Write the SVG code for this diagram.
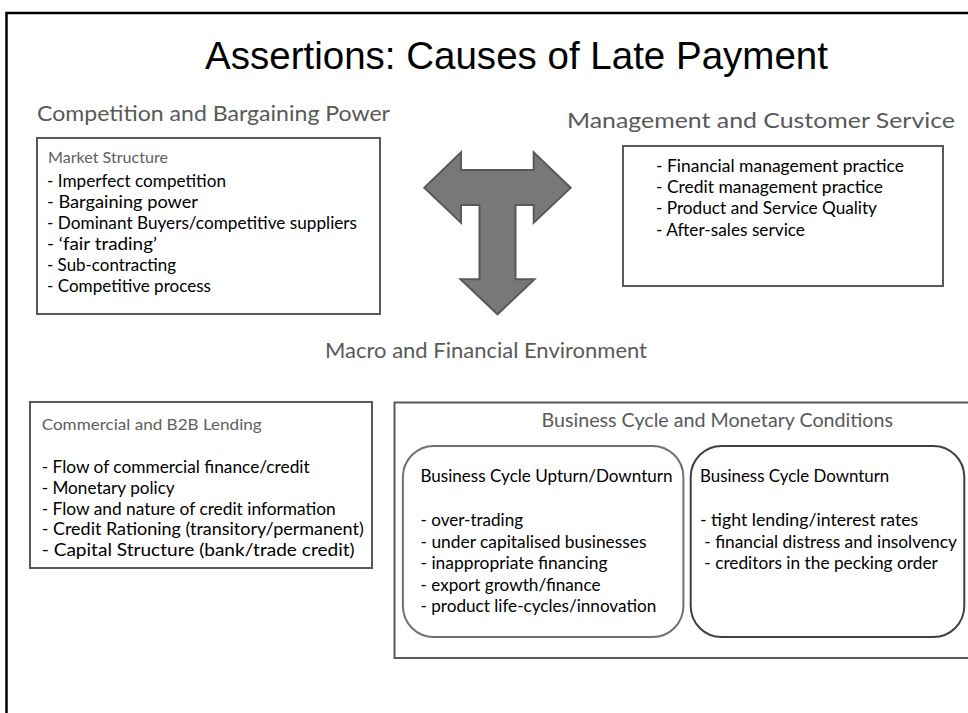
<svg xmlns="http://www.w3.org/2000/svg" width="968" height="713" viewBox="0 0 968 713">
<style>
.frame{fill:none;stroke:#000;stroke-width:2.5}
.box{fill:#fff;stroke:#595959;stroke-width:2}
.rbL{fill:#fff;stroke:#707070;stroke-width:2}
.rbR{fill:#fff;stroke:#404040;stroke-width:2}
.title{font-family:"Liberation Sans",Arial,sans-serif;font-size:39px;fill:#000}
.h{font-family:Lato,"Open Sans",sans-serif;font-size:22px;fill:#595959}
.sh{font-family:Lato,"Open Sans",sans-serif;font-size:15px;fill:#606060}
.sh2{font-family:Lato,"Open Sans",sans-serif;font-size:18.5px;fill:#595959}
.t{font-family:Lato,"Open Sans",sans-serif;font-size:16.5px;fill:#000}
.t2{font-family:Lato,"Open Sans",sans-serif;font-size:17.5px;fill:#000}
.arrow{fill:#787878;stroke:#595959;stroke-width:2;stroke-linejoin:miter}
</style>
<rect class="frame" x="6.5" y="13" width="1000" height="760"/>
<text class="title" x="205" y="69" textLength="623" lengthAdjust="spacingAndGlyphs">Assertions:  Causes of Late Payment</text>

<g id="competition">
<text class="h" x="37" y="121" textLength="353" lengthAdjust="spacingAndGlyphs">Competition and Bargaining Power</text>
<rect class="box" x="37" y="138" width="343" height="176"/>
<text class="sh" x="48" y="163" textLength="120" lengthAdjust="spacingAndGlyphs">Market Structure</text>
<text class="t" x="47" y="187" textLength="179" lengthAdjust="spacingAndGlyphs">- Imperfect competition</text>
<text class="t" x="47" y="208" textLength="151" lengthAdjust="spacingAndGlyphs">- Bargaining power</text>
<text class="t" x="47" y="229" textLength="310" lengthAdjust="spacingAndGlyphs">- Dominant Buyers/competitive suppliers</text>
<text class="t" x="47" y="250" textLength="110" lengthAdjust="spacingAndGlyphs">- ‘fair trading’</text>
<text class="t" x="47" y="271" textLength="129" lengthAdjust="spacingAndGlyphs">- Sub-contracting</text>
<text class="t" x="47" y="292" textLength="164" lengthAdjust="spacingAndGlyphs">- Competitive process</text>
</g>

<g id="management">
<text class="h" x="567" y="128" textLength="388" lengthAdjust="spacingAndGlyphs">Management and Customer Service</text>
<rect class="box" x="623" y="146" width="320" height="140"/>
<text class="t" x="656" y="171.7" textLength="248" lengthAdjust="spacingAndGlyphs">- Financial management practice</text>
<text class="t" x="656" y="192.7" textLength="227" lengthAdjust="spacingAndGlyphs">- Credit management practice</text>
<text class="t" x="656" y="214.3" textLength="221" lengthAdjust="spacingAndGlyphs">- Product and Service Quality</text>
<text class="t" x="656" y="236" textLength="149" lengthAdjust="spacingAndGlyphs">- After-sales service</text>
</g>

<g id="connectors">
<polygon class="arrow" points="424.3,187.7 461,152.3 461,170 533.7,170 533.7,152.3 570.7,187.7 533.7,222.7 533.7,205 515.5,205 515.5,279.3 534.5,279.3 497.5,314.3 460.5,279.3 479.5,279.3 479.5,205 461,205 461,222.7"/>
</g>

<g id="macro">
<text class="h" x="325" y="358" textLength="322" lengthAdjust="spacingAndGlyphs">Macro and Financial Environment</text>
</g>

<g id="lending">
<rect class="box" x="30" y="402" width="342" height="166"/>
<text class="sh" x="41.7" y="430" textLength="220" lengthAdjust="spacingAndGlyphs">Commercial and B2B Lending</text>
<text class="t" x="41.7" y="473" textLength="268" lengthAdjust="spacingAndGlyphs">- Flow of commercial finance/credit</text>
<text class="t" x="41.7" y="493.8" textLength="133" lengthAdjust="spacingAndGlyphs">- Monetary policy</text>
<text class="t" x="41.7" y="514.5" textLength="294" lengthAdjust="spacingAndGlyphs">- Flow and nature of credit information</text>
<text class="t" x="41.7" y="535.3" textLength="322" lengthAdjust="spacingAndGlyphs">- Credit Rationing (transitory/permanent)</text>
<text class="t" x="41.7" y="556" textLength="313" lengthAdjust="spacingAndGlyphs">- Capital Structure (bank/trade credit)</text>
</g>

<g id="business-cycle">
<rect class="box" x="394.5" y="402.5" width="620" height="255.5"/>
<text class="sh2" x="541.5" y="427" textLength="351.5" lengthAdjust="spacingAndGlyphs">Business Cycle and Monetary Conditions</text>
</g>

<g id="upturn-downturn">
<rect class="rbL" x="402.9" y="446" width="280.5" height="191" rx="31" ry="31"/>
<text class="t2" x="420.5" y="482" textLength="252" lengthAdjust="spacingAndGlyphs">Business Cycle Upturn/Downturn</text>
<text class="t2" x="420.5" y="526" textLength="102.6" lengthAdjust="spacingAndGlyphs">- over-trading</text>
<text class="t2" x="420.5" y="547.5" textLength="226" lengthAdjust="spacingAndGlyphs">- under capitalised businesses</text>
<text class="t2" x="420.5" y="569" textLength="187" lengthAdjust="spacingAndGlyphs">- inappropriate financing</text>
<text class="t2" x="420.5" y="590.5" textLength="180" lengthAdjust="spacingAndGlyphs">- export growth/finance</text>
<text class="t2" x="420.5" y="612" textLength="235.7" lengthAdjust="spacingAndGlyphs">- product life-cycles/innovation</text>
</g>

<g id="downturn">
<rect class="rbR" x="690.7" y="446" width="273.6" height="191" rx="31" ry="31"/>
<text class="t2" x="700" y="482" textLength="189.3" lengthAdjust="spacingAndGlyphs">Business Cycle Downturn</text>
<text class="t2" x="700" y="526" textLength="218.3" lengthAdjust="spacingAndGlyphs">-  tight lending/interest rates</text>
<text class="t2" x="704.3" y="547.5" textLength="252.6" lengthAdjust="spacingAndGlyphs">- financial distress and insolvency</text>
<text class="t2" x="704.3" y="569" textLength="233.5" lengthAdjust="spacingAndGlyphs">- creditors in the pecking order</text>
</g>
</svg>
